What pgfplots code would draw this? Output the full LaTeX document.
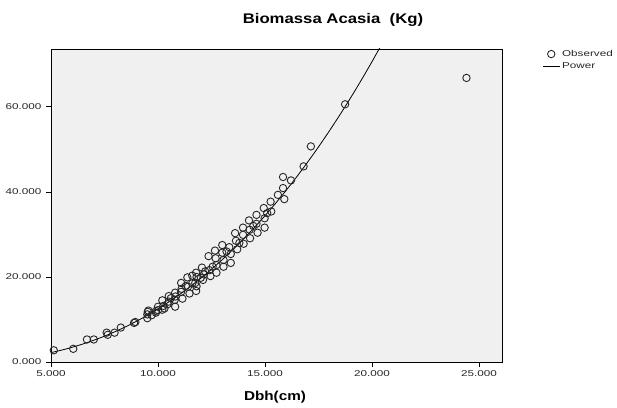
\documentclass[border=0pt]{standalone}
\usepackage{fontspec}
\setmainfont{Liberation Sans}
\usepackage{graphicx}
\usepackage{pgfplots}
\pgfplotsset{compat=1.18}
\definecolor{bgc}{RGB}{240,240,240}
\newcommand{\tl}[1]{\scalebox{1.38}[1]{#1}}
\pgfplotstableread{
x y
5.13 2.75
6.04 3.1
6.68 5.3
7.0 5.3
7.6 6.9
7.65 6.4
7.97 6.9
8.26 8.1
8.88 9.2
8.94 9.4
9.5 10.3
9.5 11.2
9.52 11.8
9.55 12.1
9.7 11.0
9.9 12.0
9.9 11.6
10.0 13.0
10.0 12.2
10.2 14.5
10.2 12.3
10.25 13.2
10.3 12.6
10.5 15.5
10.5 14.2
10.45 13.6
10.6 15.0
10.8 16.3
10.8 13.0
10.78 14.6
10.82 15.4
11.08 18.6
11.08 16.5
11.14 14.9
11.1 17.2
11.3 17.9
11.37 19.9
11.4 17.7
11.47 16.1
11.6 20.3
11.6 18.5
11.78 21.0
11.74 18.6
11.78 16.7
11.8 20.0
11.8 17.8
12.0 19.8
12.05 22.2
12.1 19.3
12.14 20.6
12.2 21.3
12.36 24.9
12.4 21.6
12.45 20.2
12.55 22.4
12.66 26.2
12.69 24.4
12.73 22.8
12.73 21.0
13.0 27.5
13.0 25.7
13.06 24.0
13.06 22.4
13.2 26.0
13.33 27.0
13.4 25.4
13.4 23.3
13.6 30.3
13.64 28.5
13.7 26.5
13.8 28.0
13.97 31.6
13.97 29.9
14.0 27.8
14.25 33.3
14.28 31.1
14.3 29.1
14.45 32.0
14.6 34.6
14.6 32.5
14.65 30.4
14.94 36.2
14.98 33.8
14.98 31.6
15.1 35.0
15.26 37.7
15.29 35.4
15.6 39.3
15.84 43.5
15.84 40.9
15.9 38.3
16.21 42.7
16.8 46.0
17.14 50.7
18.74 60.6
24.41 66.8
}\observed
\pgfplotstableread{
x y
5.0 2.21
5.5 2.80
6.0 3.48
6.5 4.25
7.0 5.12
7.5 6.08
8.0 7.15
8.5 8.32
9.0 9.60
9.5 10.99
10.0 12.49
10.5 14.11
11.0 15.85
11.5 17.72
12.0 19.70
12.5 21.82
13.0 24.07
13.5 26.45
14.0 28.97
14.5 31.62
15.0 34.42
15.5 37.36
16.0 40.45
16.5 43.68
17.0 47.07
17.5 50.60
18.0 54.30
18.5 58.15
19.0 62.15
19.5 66.32
20.0 70.66
20.5 75.16
}\power
\begin{document}
\begin{tikzpicture}[x=1bp,y=1bp]
\path[use as bounding box] (0,0) rectangle (617,407);
\begin{axis}[
  at={(51bp,45bp)}, anchor=south west,
  scale only axis, width=451bp, height=313bp,
  xmin=5, xmax=26.07, ymin=0, ymax=73.6,
  axis background/.style={fill=bgc},
  axis line style={black, line width=0.8bp},
  xtick={5,10,15,20,25},
  xticklabels={\tl{5.000},\tl{10.000},\tl{15.000},\tl{20.000},\tl{25.000}},
  ytick={0,20,40,60},
  yticklabels={\tl{0.000},\tl{20.000},\tl{40.000},\tl{60.000}},
  tick pos=left, tick align=outside,
  major tick length=5bp,
  tick style={black, line width=0.7bp},
  tick label style={font=\fontsize{8.5}{9}\selectfont, text=black!85},
  xticklabel style={yshift=0bp},
  yticklabel style={xshift=-1bp},
  clip=true,
  legend style={at={(1.089,1.003)}, anchor=north west, draw=none, fill=none,
    inner sep=0pt, font=\fontsize{8.5}{9}\selectfont, row sep=1bp,
    text=black!85},
  legend cell align=left,
]
\addplot[only marks, mark=o, mark size=3.7bp, mark options={line width=0.9bp, black!85}] table[x=x,y=y] {\observed};
\addlegendentry{\tl{Observed}}
\addplot[black, line width=0.8bp, smooth] table[x=x,y=y] {\power};
\addlegendentry{\tl{Power}}
\end{axis}
\node[anchor=base, font=\fontsize{14}{14}\selectfont\bfseries] at (333,384) {\scalebox{1.2}[1]{Biomassa Acasia\ \ (Kg)}};
\node[anchor=base, font=\fontsize{13}{13}\selectfont\bfseries] at (275,7) {\scalebox{1.18}[1]{Dbh(cm)}};
\end{tikzpicture}
\end{document}
